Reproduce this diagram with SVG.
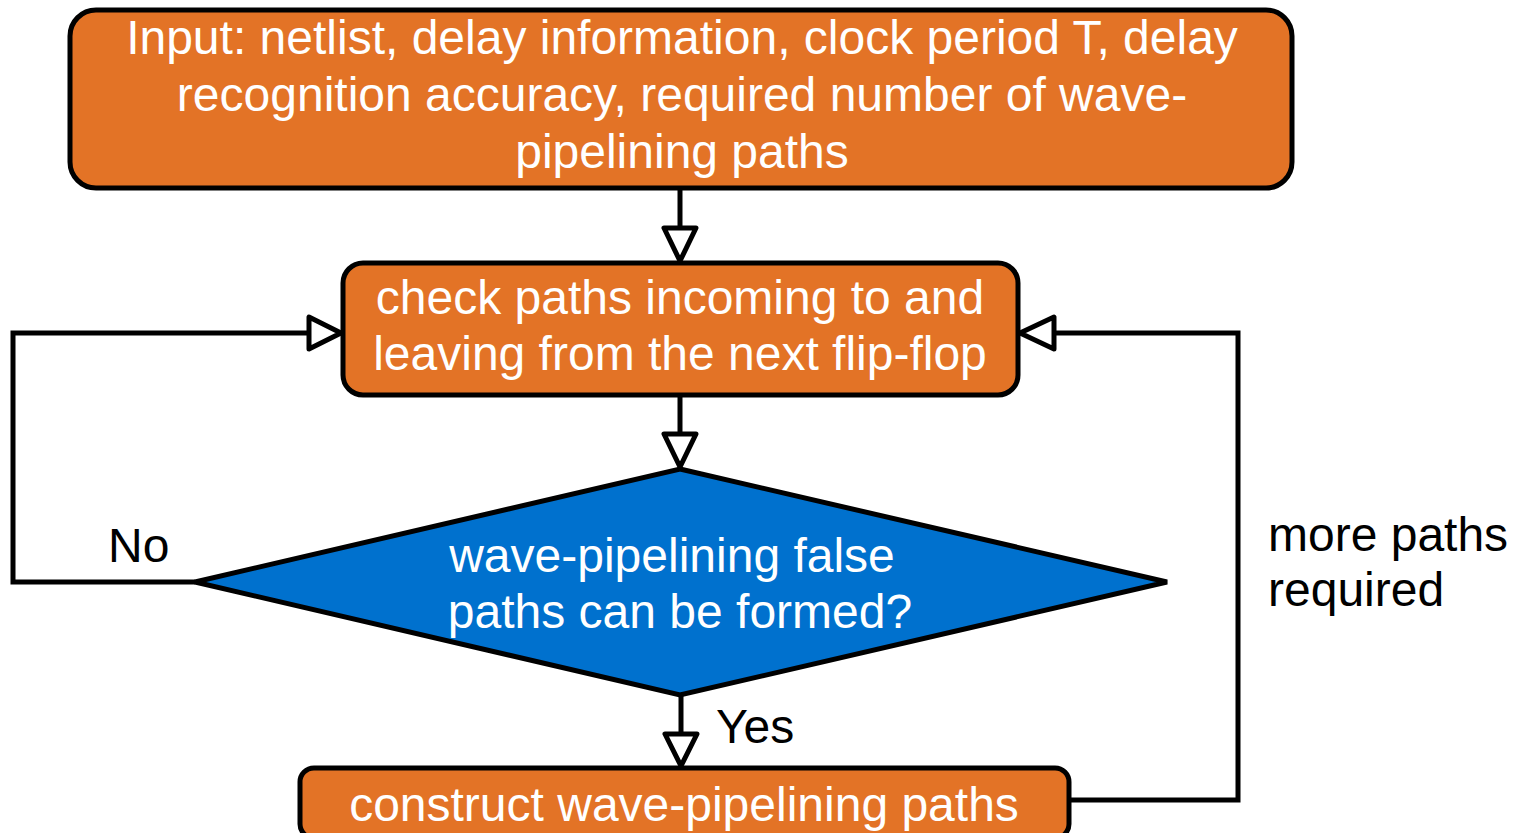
<svg xmlns="http://www.w3.org/2000/svg" width="1523" height="833" viewBox="0 0 1523 833">
  <style>
    .box { fill: #E37326; stroke: #000; stroke-width: 5; }
    .dec { fill: #0071CE; stroke: #000; stroke-width: 5; stroke-linejoin: miter; }
    .wt { fill: #fff; font-family: "Liberation Sans", Arial, sans-serif; font-size: 48px; text-anchor: middle; }
    .bt { fill: #000; font-family: "Liberation Sans", Arial, sans-serif; font-size: 48px; }
    .wire { fill: none; stroke: #000; stroke-width: 5; stroke-linejoin: miter; }
    .head { fill: #fff; stroke: #000; stroke-width: 5; stroke-linejoin: round; }
  </style>
  <rect width="1523" height="833" fill="#fff"/>

  <g id="input">
    <rect class="box" x="70" y="10" width="1222" height="178" rx="26"/>
    <text class="wt" x="682" y="54">Input: netlist, delay information, clock period T, delay</text>
    <text class="wt" x="682" y="111">recognition accuracy, required number of wave-</text>
    <text class="wt" x="682" y="168">pipelining paths</text>
  </g>

  <g id="check">
    <rect class="box" x="343" y="263" width="675" height="132" rx="20"/>
    <text class="wt" x="680" y="314">check paths incoming to and</text>
    <text class="wt" x="680" y="370">leaving from the next flip-flop</text>
  </g>

  <g id="decision">
    <polygon class="dec" points="680,469 1167,582 680,695 195,582"/>
    <text class="wt" x="672" y="572">wave-pipelining false</text>
    <text class="wt" x="680" y="628">paths can be formed?</text>
  </g>

  <g id="construct">
    <rect class="box" x="300" y="768" width="769" height="70" rx="14"/>
    <text class="wt" x="684" y="821">construct wave-pipelining paths</text>
  </g>

  <g id="connectors">
    <line class="wire" x1="680" y1="188" x2="680" y2="228"/>
    <polygon class="head" points="664,228 696,228 680,261"/>
    <line class="wire" x1="680" y1="395" x2="680" y2="434"/>
    <polygon class="head" points="664,434 696,434 680,467"/>
    <line class="wire" x1="681" y1="695" x2="681" y2="734"/>
    <polygon class="head" points="665,734 697,734 681,766"/>
    <polyline class="wire" points="195,582 13,582 13,333 309,333"/>
    <polygon class="head" points="309,317 309,349 341,333"/>
    <polyline class="wire" points="1069,800 1238,800 1238,333 1054,333"/>
    <polygon class="head" points="1054,317 1054,349 1020,333"/>
  </g>

  <g id="labels">
    <text class="bt" x="108" y="562">No</text>
    <text class="bt" x="716" y="743">Yes</text>
    <text class="bt" x="1268" y="551">more paths</text>
    <text class="bt" x="1268" y="606">required</text>
  </g>
</svg>
